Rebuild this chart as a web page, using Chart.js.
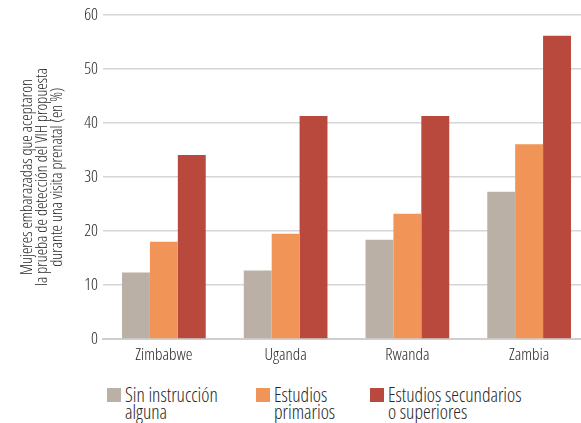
<!DOCTYPE html>
<html>
<head>
<meta charset="utf-8">
<script src="https://cdn.jsdelivr.net/npm/chart.js@4"></script>
<style>
  html, body { margin: 0; padding: 0; background: #fff; overflow: hidden; }
  body { width: 581px; height: 423px; position: relative; }
  #wrap { position: absolute; left: 0; top: 0; width: 590px; height: 370px; }
  .leg { position: absolute; top: 386px; font-family: "Open Sans", sans-serif; font-stretch: condensed; font-weight: 360;
         font-size: 19.5px; line-height: 17px; color: #262626; white-space: nowrap; }
  .leg i { position: absolute; left: 0; top: 2px; width: 14px; height: 14px; }
  .leg span { display: block; margin-left: 18px; }
</style>
</head>
<body>
<div id="wrap"><canvas id="c"></canvas></div>
<div id="legend"></div>
<script>
// Countries and education levels
const categories = ["Zimbabwe", "Uganda", "Rwanda", "Zambia"];
const seriesNames = [["Sin instrucción", "alguna"], ["Estudios", "primarios"], ["Estudios secundarios", "o superiores"]];
const sinInstruccion = [12.3, 12.7, 18.4, 27.3];
const primarios = [18.0, 19.5, 23.2, 36.1];
const secundarios = [34.1, 41.3, 41.3, 56.2];
const yTicks = [0, 10, 20, 30, 40, 50, 60];
const yTitle = ["Mujeres embarazadas que aceptaron", "la prueba de detección del VIH propuesta", "durante una visita prenatal (en %)"];
const colors = ["#bbb0a5", "#f09457", "#b8493c"];

const FONT = '"Open Sans", sans-serif';
const WEIGHT = "360 condensed"; // light-ish, condensed width
const values = [sinInstruccion, primarios, secundarios];

new Chart(document.getElementById("c"), {
  type: "bar",
  data: {
    labels: categories,
    datasets: values.map((v, i) => ({
      label: seriesNames[i].join(" "),
      data: v,
      backgroundColor: colors[i],
      borderWidth: 0,
      categoryPercentage: 0.6875,
      barPercentage: 1
    }))
  },
  options: {
    responsive: true,
    maintainAspectRatio: false,
    animation: false,
    layout: { padding: { top: 13, right: 0, bottom: 0, left: 0 } },
    plugins: { legend: { display: false }, tooltip: { enabled: false } },
    scales: {
      x: {
        grid: { display: false, drawTicks: false },
        border: { display: true, color: "#cfcfcf", width: 2 },
        ticks: { color: "#262626", font: { family: FONT, size: 17, weight: WEIGHT }, padding: 6, maxRotation: 0 },
        afterFit: s => { s.height = 31; }
      },
      y: {
        min: 0, max: 60,
        afterBuildTicks: s => { s.ticks = yTicks.map(v => ({ value: v })); },
        grid: { color: "#d6d6d6", lineWidth: 1.5, drawTicks: false },
        border: { display: false },
        ticks: { color: "#262626", font: { family: FONT, size: 17, weight: WEIGHT }, padding: 5 },
        title: {
          display: true,
          text: yTitle,
          color: "#262626",
          font: { family: FONT, size: 16.2, weight: WEIGHT, lineHeight: "14.8px" },
          padding: { top: 20, bottom: 0 }
        },
        afterFit: s => { s.width = 103; }
      }
    }
  }
});

// Legend with two-line labels
const legend = document.getElementById("legend");
const legendX = [107, 256, 370];
seriesNames.forEach((lines, i) => {
  const d = document.createElement("div");
  d.className = "leg";
  d.style.left = legendX[i] + "px";
  const sw = document.createElement("i");
  sw.style.background = colors[i];
  d.appendChild(sw);
  lines.forEach(t => { const s = document.createElement("span"); s.textContent = t; d.appendChild(s); });
  legend.appendChild(d);
});
</script>
</body>
</html>
